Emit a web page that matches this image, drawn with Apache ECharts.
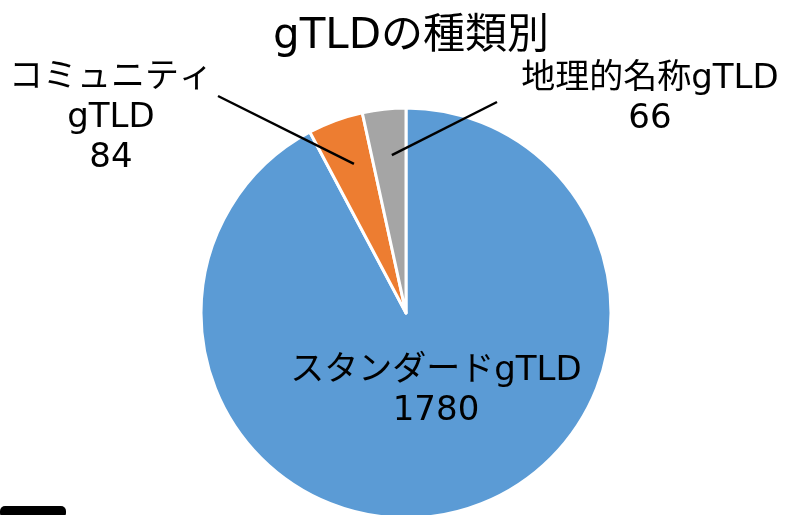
<!DOCTYPE html>
<html>
<head>
<meta charset="utf-8">
<script src="https://cdn.jsdelivr.net/npm/echarts@6/dist/echarts.min.js"></script>
<style>
html, body { margin: 0; padding: 0; background: #fff; }
#echart { width: 787px; height: 515px; }
</style>
</head>
<body>
<div id="echart"></div>
<script>
var categories = ['スタンダードgTLD', 'コミュニティ\ngTLD', '地理的名称gTLD'];
var values = [1780, 84, 66];
var colors = ['#5B9BD5', '#ED7D31', '#A5A5A5'];

// label anchor (center of text block) and outer end of leader line
var labelPos = [[436, 391], [111, 118], [650, 99]];
var lineEnds = [null, [218, 96], [497, 102]];

var fontFamily = '"DejaVu Sans", "Noto Sans CJK JP", sans-serif';
var cx = 406, cy = 313, R = 205;

var echart = echarts.init(document.getElementById('echart'));
var data = [];
for (var i = 0; i < categories.length; i++) {
	data.push({ name: categories[i], value: values[i], itemStyle: { color: colors[i] } });
}

// leader lines: inner end on each slice's bisector
var total = 0;
for (var i = 0; i < values.length; i++) total += values[i];
var lines = [];
var acc = 0;
for (var i = 0; i < values.length; i++) {
	var mid = (acc + values[i] / 2) / total * Math.PI * 2;
	acc += values[i];
	if (!lineEnds[i]) continue;
	var r = R * 0.78;
	lines.push({
		type: 'line',
		z: 100,
		shape: { x1: lineEnds[i][0], y1: lineEnds[i][1], x2: cx + r * Math.sin(mid) + 3, y2: cy - r * Math.cos(mid) + 1 },
		style: { stroke: '#000', lineWidth: 2.5 }
	});
}
lines.push({
	type: 'rect',
	shape: { x: 0, y: 506, width: 66, height: 12, r: 5 },
	style: { fill: '#000' }
});

echart.setOption({
	animation: false,
	title: {
		text: 'gTLDの種類別',
		left: 268,
		top: 11,
		textStyle: { fontFamily: fontFamily, fontSize: 42, fontWeight: 'normal', color: '#000' }
	},
	graphic: lines,
	series: [{
		type: 'pie',
		center: [cx, cy],
		radius: R,
		startAngle: 90,
		clockwise: true,
		data: data,
		itemStyle: { borderColor: '#fff', borderWidth: 3 },
		label: {
			show: true,
			formatter: '{b}\n{c}',
			fontFamily: fontFamily,
			fontSize: 34,
			lineHeight: 40,
			color: '#000',
			align: 'center',
			overflow: 'none'
		},
		labelLine: { show: false },
		labelLayout: function (p) {
			var i = p.dataIndex;
			return { x: labelPos[i][0], y: labelPos[i][1], align: 'center', verticalAlign: 'middle' };
		}
	}]
});
</script>
</body>
</html>
